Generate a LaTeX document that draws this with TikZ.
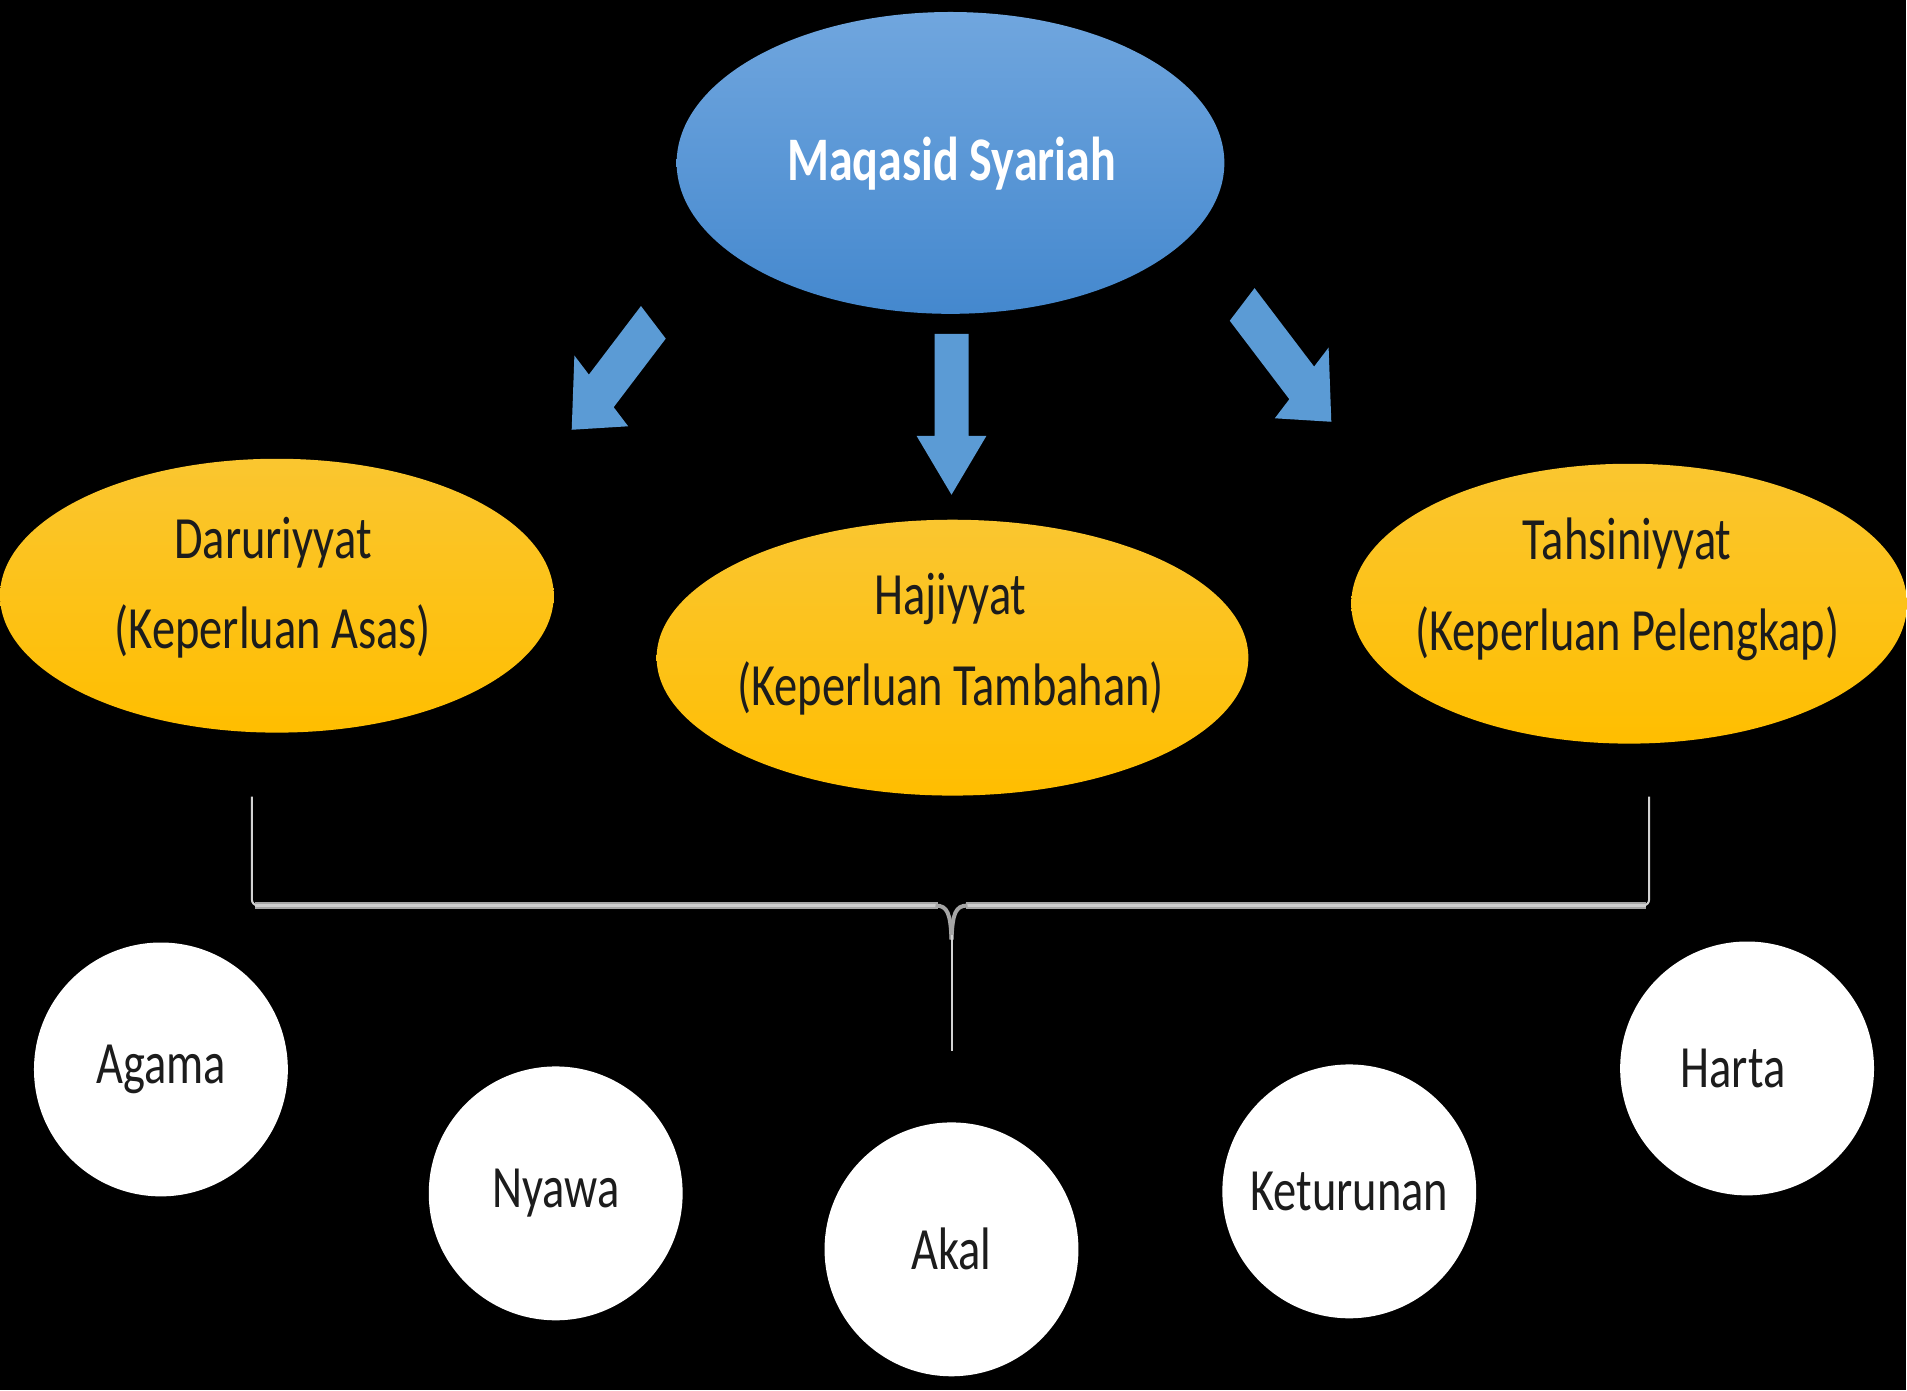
\documentclass[tikz,border=0pt]{standalone}
\usepackage{fontspec}
\setmainfont{Carlito}
\usetikzlibrary{shapes.geometric}
\newcommand{\sq}[1]{\scalebox{0.775}[1]{#1}}
\definecolor{bluearrow}{RGB}{91,155,213}
\definecolor{blueTop}{RGB}{112,166,222}
\definecolor{blueBot}{RGB}{68,136,206}
\definecolor{yTop}{RGB}{250,198,48}
\definecolor{yBot}{RGB}{255,190,0}
\definecolor{darktext}{RGB}{28,28,28}
\definecolor{braceH}{RGB}{165,165,165}
\definecolor{braceHc}{RGB}{205,205,205}
\definecolor{braceV}{RGB}{210,210,210}
\begin{document}
\begin{tikzpicture}[x=0.5pt,y=-0.5pt,
  mainell/.style={ellipse, inner sep=0, top color=blueTop, bottom color=blueBot, draw=none},
  yell/.style={ellipse, inner sep=0, top color=yTop, bottom color=yBot, draw=none},
  lbl/.style={align=center, font=\fontsize{30}{45.5}\selectfont, text=darktext, inner sep=0},
  toplbl/.style={align=center, font=\fontsize{31}{40}\selectfont\bfseries, text=white, inner sep=0},
  circ/.style={circle, fill=white, minimum size=127pt, inner sep=0, font=\fontsize{30}{36}\selectfont, text=darktext},
  blockarrow/.style={fill=bluearrow},
  bracehline/.style={draw=braceH, line width=3.5pt},
  bracehcore/.style={draw=braceHc, line width=1.2pt},
  bracevline/.style={draw=braceV, line width=1pt}]
\fill[black] (0,0) rectangle (1907,1391);

% top ellipse
\node[mainell, minimum width=274pt, minimum height=151pt] (top) at (951,163) {};
\node[toplbl] (topt) at (952,164) {\sq{Maqasid Syariah}};

% level 2 ellipses
\node[yell, minimum width=277pt, minimum height=137pt] (dar) at (277,596) {};
\node[lbl] (dart) at (273,588) {\sq{Daruriyyat}\\\sq{(Keperluan Asas)}};
\node[yell, minimum width=296pt, minimum height=138pt] (haj) at (953,658) {};
\node[lbl] (hajt) at (951,645) {\sq{Hajiyyat}\\\sq{(Keperluan Tambahan)}};
\node[yell, minimum width=278pt, minimum height=140pt] (tah) at (1630,604) {};
\node[lbl] (taht) at (1628,590) {\sq{Tahsiniyyat}\\\sq{(Keperluan Pelengkap)}};

% block arrows
\fill[blockarrow] (935,334) -- (969,334) -- (969,436) -- (987,436) -- (952,495)
  -- (917,436) -- (935,436) -- cycle;
\fill[blockarrow] (572,430) -- (628.5,426.5) -- (614,407.4) -- (666.1,338.8)
  -- (641.3,306.2) -- (589.2,374.8) -- (574.7,355.7) -- cycle;
\fill[blockarrow] (1332,422) -- (1275.5,418.5) -- (1290,399.4) -- (1230.4,320.9)
  -- (1255.2,288.3) -- (1314.8,366.8) -- (1329.3,347.7) -- cycle;

% brace
\draw[bracevline, rounded corners=3pt] (252,797) -- (252,906) -- (262,906);
\draw[bracevline, rounded corners=3pt] (1650,797) -- (1650,906) -- (1640,906);
\draw[bracehline] (255,906) -- (938,906);
\draw[bracehline] (966,906) -- (1647,906);
\draw[bracehcore] (255,906) -- (938,906);
\draw[bracehcore] (966,906) -- (1647,906);
\draw[draw=braceH, line width=2pt] (936,906) .. controls (948,906) and (951,914) .. (952,940);
\draw[draw=braceH, line width=2pt] (968,906) .. controls (956,906) and (953,914) .. (952,940);
\draw[bracevline] (952,935) -- (952,1052);

% circles
\node[circ] (agama) at (161,1070) {\sq{Agama}};
\node[circ] (nyawa) at (556,1194) {\sq{Nyawa}};
\node[circ] (akal) at (952,1250) {\sq{Akal}};
\node[circ] (ket) at (1350,1192) {\sq{Keturunan}};
\node[circ] (harta) at (1748,1069) {\hspace*{-14pt}\sq{Harta}};
\end{tikzpicture}
\end{document}
